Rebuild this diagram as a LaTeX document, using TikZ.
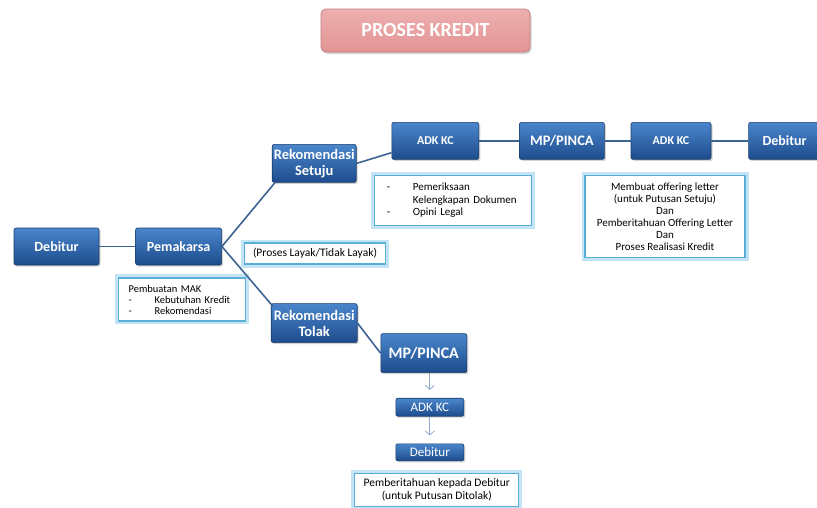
\documentclass[tikz,border=0pt]{standalone}
\usepackage{fontspec}
\setmainfont{Carlito}
\usepackage{xcolor}
\usetikzlibrary{positioning, arrows.meta, shadows}

\definecolor{boxtop}{HTML}{4A86CC}
\definecolor{boxbot}{HTML}{1D4C8C}
\definecolor{boxline}{HTML}{1A3D6B}
\definecolor{linkblue}{HTML}{3D6392}
\definecolor{noteline}{HTML}{5AAED8}
\definecolor{noteglow}{HTML}{C3E4F5}
\definecolor{titletop}{HTML}{EDAFAF}
\definecolor{titlebot}{HTML}{E39494}
\definecolor{titleline}{HTML}{C47C7C}
\definecolor{arrowgray}{HTML}{8FA8CA}

\newcommand{\dashitem}{\makebox[26pt][l]{-}}

\begin{document}
\begin{tikzpicture}[
    x=1pt, y=1pt,
    node distance=20pt and 20pt,
    unit/.style={draw=boxline, line width=0.6pt, rounded corners=2pt, top color=boxtop, bottom color=boxbot,
      text=white, font=\fontsize{14}{16}\selectfont\bfseries, align=center, inner sep=0pt, minimum height=37pt,
      drop shadow={shadow xshift=1.5pt, shadow yshift=-1.5pt, opacity=0.35}},
    minor/.style={unit, font=\fontsize{13}{14}\selectfont, minimum width=68pt, minimum height=18pt},
    note/.style={draw=noteline, line width=1.2pt, fill=white, preaction={draw=noteglow, line width=7pt},
      font=\fontsize{11}{12.5}\selectfont, inner sep=0pt},
    banner/.style={draw=titleline, line width=0.8pt, rounded corners=5pt, top color=titletop, bottom color=titlebot,
      text=white, font=\fontsize{20}{22}\selectfont\bfseries,
      drop shadow={shadow xshift=1.5pt, shadow yshift=-2pt, opacity=0.35}},
    link/.style={draw=linkblue, line width=1.6pt},
    arr/.style={draw=arrowgray, line width=0.8pt, shorten >=8pt, -{Straight Barb[length=4pt, width=9pt]}}
  ]
  \useasboundingbox (0,0) rectangle (817,-507);

  \node[banner, minimum width=209pt, minimum height=43pt] (title) at (425.5,-30.5) {PROSES KREDIT};

  % main chain
  \node[unit, minimum width=85pt] (deb1) at (56.5,-246.5) {Debitur};
  \node[unit, minimum width=86pt, right=36pt of deb1] (pem) {Pemakarsa};
  \node[unit, minimum width=84pt, minimum height=38pt, font=\fontsize{14.5}{16}\selectfont\bfseries,
    above right=45pt and 50pt of pem] (rs) {Rekomendasi\\Setuju};
  \node[unit, minimum width=86pt, minimum height=39pt, font=\fontsize{14.5}{16}\selectfont\bfseries,
    below right=38pt and 49pt of pem] (rt) {Rekomendasi\\Tolak};

  % approved path
  \node[unit, minimum width=87pt, font=\fontsize{12}{14}\selectfont\bfseries, right=35pt of rs, yshift=22.5pt] (adk1) {ADK KC};
  \node[unit, minimum width=85pt, font=\fontsize{14.5}{16}\selectfont\bfseries, right=40pt of adk1] (mp1) {MP/PINCA};
  \node[unit, minimum width=80pt, font=\fontsize{12}{14}\selectfont\bfseries, right=26pt of mp1] (adk2) {ADK KC};
  \node[unit, minimum width=72pt, right=37pt of adk2] (deb2) {Debitur};

  % rejected path
  \node[unit, minimum width=86pt, minimum height=39pt, font=\fontsize{16}{18}\selectfont\bfseries,
    right=23pt of rt, yshift=-30pt] (mp2) {MP/PINCA};
  \node[minor, below=25pt of mp2, xshift=6pt] (adk3) {ADK KC};
  \node[minor, minimum height=17pt, below=27pt of adk3] (deb3) {Debitur};

  % notes
  \node[note, minimum width=127pt, minimum height=43pt, text width=107pt, align=left,
    font=\fontsize{10.5}{11}\selectfont, below=12pt of pem, xshift=3.5pt] (mak)
    {Pembuatan MAK\\\dashitem Kebutuhan Kredit\\\dashitem Rekomendasi};
  \node[note, minimum width=141pt, minimum height=21pt, font=\fontsize{11.5}{13}\selectfont,
    right=22pt of pem, yshift=-7pt] (layak) {(Proses Layak/Tidak Layak)};
  \node[note, minimum width=157pt, minimum height=50pt, text width=133pt, align=left,
    below=15pt of adk1, xshift=18pt] (cek)
    {\dashitem Pemeriksaan\\\hspace*{26pt}Kelengkapan Dokumen\\\dashitem Opini Legal};
  \node[note, minimum width=160pt, minimum height=82pt, align=center, font=\fontsize{11}{12}\selectfont,
    below=15pt of adk2, xshift=-6pt] (offer)
    {Membuat offering letter\\(untuk Putusan Setuju)\\Dan\\Pemberitahuan Offering Letter\\Dan\\Proses Realisasi Kredit};
  \node[note, minimum width=164pt, minimum height=33pt, align=center, font=\fontsize{11.5}{13}\selectfont,
    below=12pt of deb3, xshift=7pt] (info)
    {Pemberitahuan kepada Debitur\\(untuk Putusan Ditolak)};

  % connectors
  \draw[link] (deb1) -- (pem);
  \draw[link] (pem.east) -- ([xshift=3pt]rs.south west);
  \draw[link] (pem.east) -- ([xshift=2pt, yshift=-3pt]rt.north west);
  \draw[link] (rs.east) -- ([yshift=7pt]adk1.south west);
  \draw[link] (adk1) -- (mp1);
  \draw[link] (mp1) -- (adk2);
  \draw[link] (adk2) -- (deb2);
  \draw[link] (rt.east) -- (mp2.west);
  \draw[arr] (mp2.south -| adk3) -- (adk3.north);
  \draw[arr] (adk3) -- (deb3.north);
\end{tikzpicture}
\end{document}
